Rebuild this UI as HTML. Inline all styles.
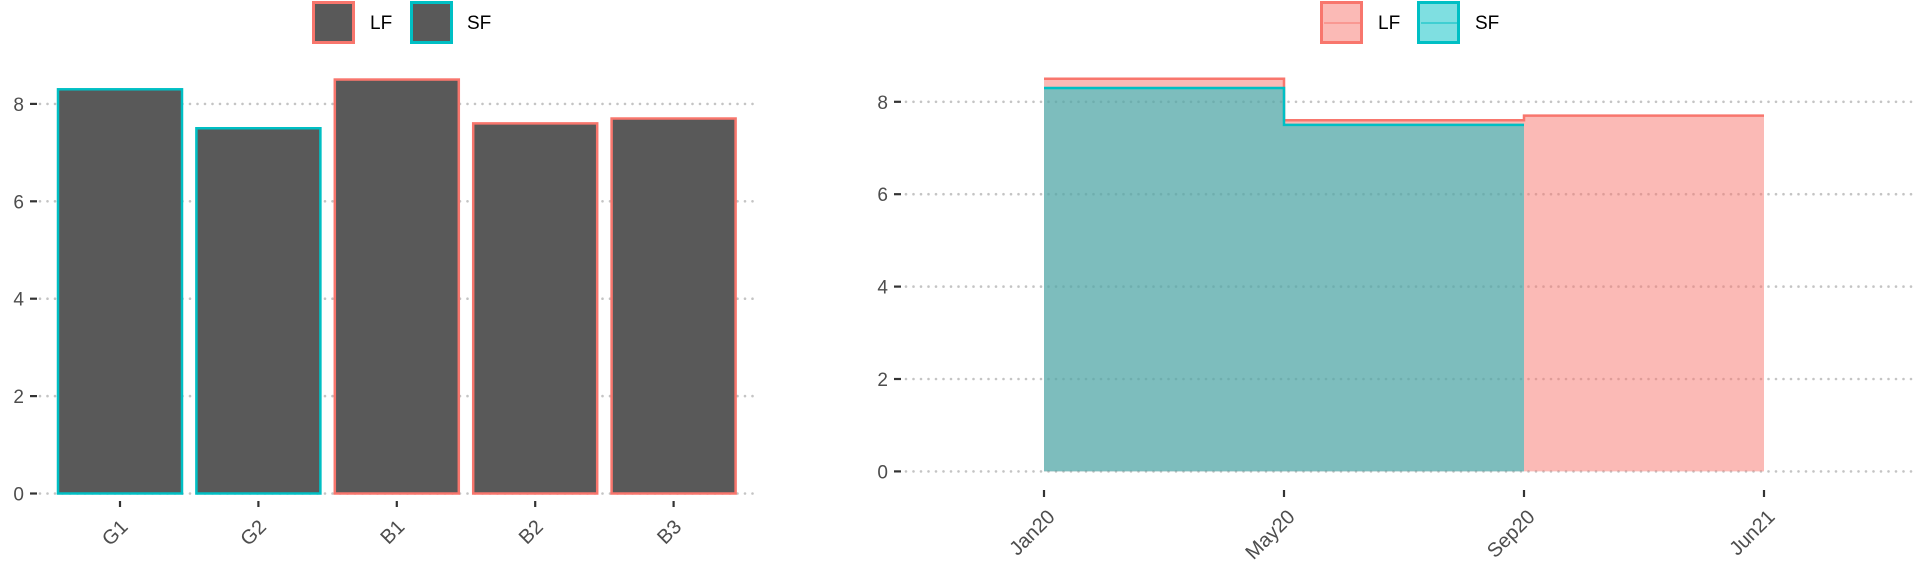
<!DOCTYPE html>
<html><head><meta charset="utf-8"><style>
html,body{margin:0;padding:0;background:#fff;}
svg{display:block;font-family:"Liberation Sans",sans-serif;}
</style></head><body>
<svg id="chart" width="1920" height="576" viewBox="0 0 1920 576"></svg>
<script>
// Left bar chart data
const barCats = ["G1","G2","B1","B2","B3"];
const barVals = [8.3,7.5,8.5,7.6,7.7];
const barGroup = ["SF","SF","LF","LF","LF"];
const yTicks = [0,2,4,6,8];
// Right step-area data
const stepCats = ["Jan20","May20","Sep20","Jun21"];
const lfVals = [8.5,7.6,7.7];
const sfVals = [8.3,7.5];

const NS="http://www.w3.org/2000/svg";
const svg=document.getElementById('chart');
function mk(tag,attrs,parent){const e=document.createElementNS(NS,tag);for(const k in attrs)e.setAttribute(k,attrs[k]);(parent||svg).appendChild(e);return e;}
const RED="#F8766D", CYAN="#00BFC4";
const GRID={stroke:"#c4c4c4","stroke-width":2.6,"stroke-dasharray":"0 7.5","stroke-linecap":"round"};

// ----- left panel -----
const lY=v=>493.5-v*48.7;
const lX=i=>120+i*138.4;
const gL=mk('g',{});


yTicks.forEach(t=>{
  const gl=mk('line',Object.assign({x1:40,x2:755,y1:lY(t),y2:lY(t)},GRID),gL);
  
  
  mk('line',{x1:30,x2:37,y1:lY(t),y2:lY(t),stroke:"#333","stroke-width":2.2},gL);
  const tx=mk('text',{x:24,y:lY(t)+7,"text-anchor":"end","font-size":19,fill:"#4d4d4d"},gL);
  tx.textContent=t;
  
  
});
barCats.forEach((c,i)=>{
  const x=lX(i), w=124;
  const r=mk('rect',{x:x-w/2,y:lY(barVals[i]),width:w,height:lY(0)-lY(barVals[i]),fill:"#595959",stroke:barGroup[i]=="LF"?RED:CYAN,"stroke-width":2.5},gL);
  
  
  mk('line',{x1:x,x2:x,y1:501,y2:507,stroke:"#333","stroke-width":2.2},gL);
  const tx=mk('text',{x:x+9,y:528,"text-anchor":"end","font-size":20,fill:"#4d4d4d",transform:`rotate(-45 ${x+9} 528)`},gL);
  tx.textContent=c;
  
  
});
// left legend
[["LF",RED,312,370],["SF",CYAN,410,467]].forEach(([n,col,bx,tx])=>{
  const b=mk('rect',{x:bx+1.5,y:2.5,width:40,height:40,fill:"#595959",stroke:col,"stroke-width":3});
  
  
  const t=mk('text',{x:tx,y:29,"font-size":19,fill:"#000"});
  t.textContent=n;
  
  
});

// ----- right panel -----
const rY=v=>471.4-v*46.2;
const rX=i=>1044+i*240;
const gR=mk('g',{});


yTicks.forEach(t=>{
  const gl=mk('line',Object.assign({x1:906,x2:1912,y1:rY(t),y2:rY(t)},GRID),gR);
  
  
  mk('line',{x1:894,x2:901,y1:rY(t),y2:rY(t),stroke:"#333","stroke-width":2.2},gR);
  const tx=mk('text',{x:888,y:rY(t)+7,"text-anchor":"end","font-size":19,fill:"#4d4d4d"},gR);
  tx.textContent=t;
  
  
});
function stepPath(vals){
  let d=`M${rX(0)},${rY(0)}`;
  vals.forEach((v,i)=>{d+=` L${rX(i)},${rY(v)} L${rX(i+1)},${rY(v)}`;});
  d+=` L${rX(vals.length)},${rY(0)} Z`;return d;
}
function stepLine(vals){
  let d=`M${rX(0)},${rY(vals[0])}`;
  vals.forEach((v,i)=>{d+=` L${rX(i)},${rY(v)} L${rX(i+1)},${rY(v)}`;});return d;
}
const aL=mk('path',{d:stepPath(lfVals),fill:RED,"fill-opacity":0.5},gR);


const lL=mk('path',{d:stepLine(lfVals),fill:"none",stroke:RED,"stroke-width":2.5},gR);


const aS=mk('path',{d:stepPath(sfVals),fill:CYAN,"fill-opacity":0.5},gR);


const lS=mk('path',{d:stepLine(sfVals),fill:"none",stroke:CYAN,"stroke-width":2.5},gR);


stepCats.forEach((c,i)=>{
  const x=rX(i);
  mk('line',{x1:x,x2:x,y1:490,y2:497,stroke:"#333","stroke-width":2.2},gR);
  const tx=mk('text',{x:x+12,y:518,"text-anchor":"end","font-size":20,fill:"#4d4d4d",transform:`rotate(-45 ${x+12} 518)`},gR);
  tx.textContent=c;
  
  
});
// right legend
[["LF",RED,1320,1378],["SF",CYAN,1417,1475]].forEach(([n,col,bx,tx])=>{
  const b=mk('rect',{x:bx+1.5,y:2.5,width:40,height:40,fill:col,"fill-opacity":0.5,stroke:col,"stroke-width":3});
  
  
  mk('line',{x1:bx+4,x2:bx+40,y1:23,y2:23,stroke:col,"stroke-width":2,"stroke-opacity":0.5});
  const t=mk('text',{x:tx,y:29,"font-size":19,fill:"#000"});
  t.textContent=n;
  
  
});
</script>
</body></html>
